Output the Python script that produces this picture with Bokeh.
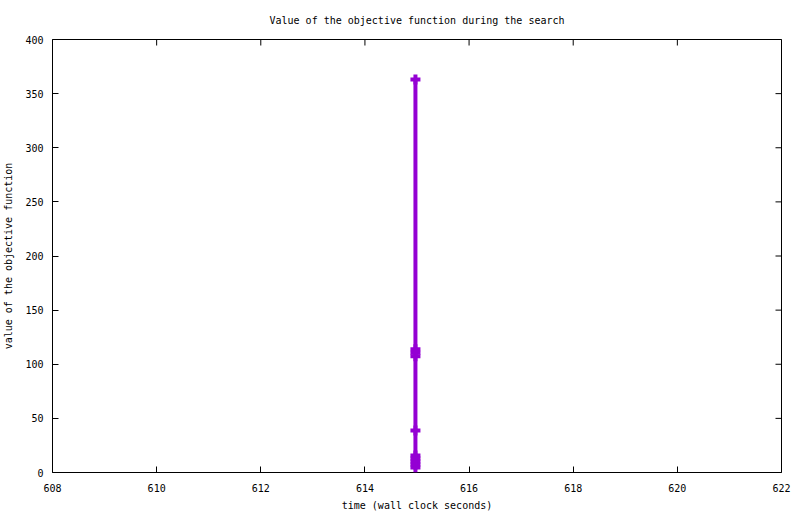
import math
from bokeh.plotting import figure
from bokeh.models import Range1d, FixedTicker
from bokeh.embed import file_html
from bokeh.resources import INLINE

# data (wall clock seconds, objective value)
times = [614.97, 614.97, 614.97, 614.97, 614.97, 614.97, 614.97, 614.97, 614.97, 614.97]
objective = [363.0, 113.8, 110.6, 107.4, 38.8, 15.7, 12.9, 10.2, 7.4, 4.6]

x_ticks = [608, 610, 612, 614, 616, 618, 620, 622]
y_ticks = [0, 50, 100, 150, 200, 250, 300, 350, 400]

FONT = "DejaVu Sans Mono"
FS = "10px"
COLOR = "#9400D3"

p = figure(width=800, height=514, output_backend="svg", toolbar_location=None,
           x_range=Range1d(608, 622), y_range=Range1d(0, 400),
           title="Value of the objective function during the search",
           min_border_left=52, min_border_right=19, min_border_top=39, min_border_bottom=42)

p.title.align = "center"
p.title.text_font = FONT
p.title.text_font_size = FS
p.title.text_font_style = "normal"
p.title.text_color = "black"
p.title.vertical_align = "top"
p.title.standoff = 24

p.xgrid.visible = False
p.ygrid.visible = False
p.outline_line_color = "black"
p.outline_line_alpha = 1
p.outline_line_width = 1
p.background_fill_color = "white"
p.border_fill_color = "white"

for ax in (p.xaxis[0], p.yaxis[0]):
    ax.axis_line_color = None
    ax.major_tick_in = 6
    ax.major_tick_out = 0
    ax.minor_tick_in = 0
    ax.minor_tick_out = 0
    ax.major_tick_line_color = "black"
    ax.major_label_text_font = FONT
    ax.major_label_text_font_size = FS
    ax.major_label_text_color = "black"
    ax.axis_label_text_font = FONT
    ax.axis_label_text_font_size = FS
    ax.axis_label_text_font_style = "normal"
    ax.axis_label_text_color = "black"

p.xaxis[0].ticker = FixedTicker(ticks=x_ticks)
p.yaxis[0].ticker = FixedTicker(ticks=y_ticks)
p.xaxis[0].axis_label = "time (wall clock seconds)"
p.yaxis[0].axis_label = "value of the objective function"
p.xaxis[0].major_label_standoff = 11
p.xaxis[0].axis_label_standoff = 5
p.yaxis[0].major_label_standoff = 9
p.yaxis[0].axis_label_standoff = 8

# mirrored inward ticks on the top and right edges (half of each dash is clipped by the frame)
p.scatter([622] * len(y_ticks), y_ticks, marker="dash", size=12,
          line_color="black", line_width=1)
p.scatter(x_ticks, [400] * len(x_ticks), marker="dash", size=12, angle=math.pi / 2,
          line_color="black", line_width=1)

p.line(times, objective, line_color=COLOR, line_width=4)
p.scatter(times, objective, marker="cross", size=10, line_color=COLOR, line_width=4)

open("out.html", "w").write(file_html(p, INLINE))
